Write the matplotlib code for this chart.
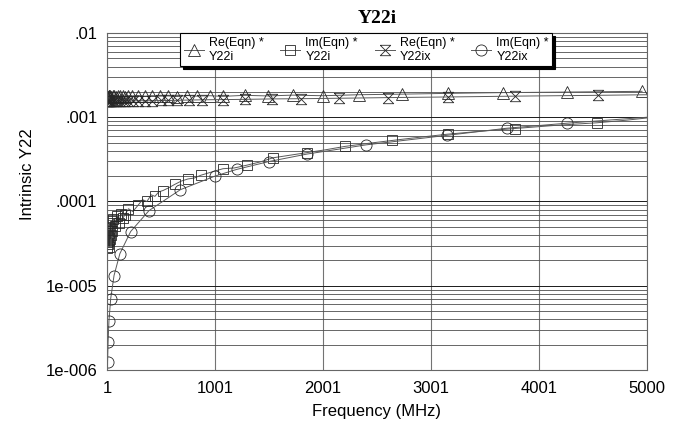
import matplotlib
matplotlib.use("Agg")
import matplotlib.pyplot as plt
from matplotlib.ticker import LogLocator, NullFormatter, FixedLocator

plt.rcParams["font.family"] = ["Liberation Sans", "DejaVu Sans"]

# Re(Eqn) Y22i  (triangles)
f_re_i = [1, 4, 9, 15, 22, 30, 40, 52, 66, 82, 100, 120, 145, 168, 200, 232,
          288, 353, 418, 492, 566, 649, 742, 834, 954, 1075, 1278, 1491, 1723,
          2000, 2330, 2732, 3158, 3667, 4260, 4954]
re_i = [1.76e-3, 1.80e-3, 1.75e-3, 1.79e-3, 1.77e-3, 1.81e-3, 1.76e-3, 1.78e-3,
        1.80e-3, 1.75e-3, 1.79e-3, 1.77e-3, 1.80e-3, 1.76e-3, 1.79e-3, 1.78e-3,
        1.81e-3, 1.77e-3, 1.80e-3, 1.78e-3, 1.79e-3, 1.76e-3, 1.81e-3, 1.78e-3,
        1.80e-3, 1.77e-3, 1.82e-3, 1.79e-3, 1.83e-3, 1.80e-3, 1.85e-3, 1.88e-3,
        1.92e-3, 1.96e-3, 1.99e-3, 2.03e-3]

# Im(Eqn) Y22i  (squares)
f_im_i = [1, 3, 5, 8, 10, 13, 15, 18, 20, 25, 30, 35, 40, 45, 50, 60, 75, 90,
          110, 130, 150, 168, 200, 240, 288, 330, 371, 410, 445, 480, 520, 570,
          630, 690, 750, 810, 870, 950, 1075, 1180, 1297, 1420, 1538, 1700, 1850,
          2020, 2200, 2420, 2640, 2900, 3158, 3450, 3778, 4150, 4540, 4800, 5000]
im_i = [3.3e-5, 4.6e-5, 2.8e-5, 3.9e-5, 3.1e-5, 5.0e-5, 3.5e-5, 4.2e-5, 2.9e-5,
        4.8e-5, 3.6e-5, 5.5e-5, 4.0e-5, 5.9e-5, 4.5e-5, 6.2e-5, 5.1e-5, 6.8e-5,
        5.6e-5, 7.2e-5, 6.4e-5, 7.0e-5, 8.2e-5, 7.6e-5, 9.0e-5, 1.05e-4, 1.0e-4,
        1.2e-4, 1.15e-4, 1.3e-4, 1.35e-4, 1.45e-4, 1.6e-4, 1.75e-4, 1.85e-4,
        1.9e-4, 2.05e-4, 2.2e-4, 2.45e-4, 2.5e-4, 2.7e-4, 2.95e-4, 3.3e-4,
        3.55e-4, 3.8e-4, 4.1e-4, 4.5e-4, 4.9e-4, 5.3e-4, 5.8e-4, 6.3e-4, 6.8e-4,
        7.35e-4, 8.0e-4, 8.6e-4, 9.2e-4, 9.8e-4]
im_i_marks = list(range(22)) + [22, 24, 26, 28, 30, 32, 34, 36, 38, 40, 42,
                                44, 46, 48, 50, 52, 54]

# Re(Eqn) Y22ix  (bowties)
f_re_ix = [1, 4, 9, 15, 22, 30, 40, 52, 66, 82, 100, 120, 145, 170, 200, 240,
           290, 350, 420, 500, 570, 649, 760, 880, 1075, 1278, 1528, 1800, 2150,
           2600, 3158, 3778, 4545, 5000]
re_ix = [1.55e-3, 1.55e-3, 1.55e-3, 1.55e-3, 1.55e-3, 1.55e-3, 1.55e-3, 1.55e-3,
         1.55e-3, 1.55e-3, 1.55e-3, 1.55e-3, 1.56e-3, 1.56e-3, 1.56e-3, 1.56e-3,
         1.57e-3, 1.57e-3, 1.57e-3, 1.58e-3, 1.58e-3, 1.59e-3, 1.60e-3, 1.61e-3,
         1.62e-3, 1.63e-3, 1.65e-3, 1.66e-3, 1.68e-3, 1.71e-3, 1.74e-3, 1.78e-3,
         1.82e-3, 1.85e-3]
re_ix_marks = list(range(33))

# Im(Eqn) Y22ix  (circles)
f_im_ix = [1, 6, 11, 19, 35, 66, 120, 220, 390, 680, 1000, 1200, 1500, 1850,
           2400, 3150, 3700, 4260, 5000]
im_ix = [2.0e-7, 1.25e-6, 2.16e-6, 3.8e-6, 7.0e-6, 1.32e-5, 2.4e-5, 4.4e-5,
         7.8e-5, 1.38e-4, 2.0e-4, 2.4e-4, 2.98e-4, 3.65e-4, 4.7e-4, 6.1e-4,
         7.4e-4, 8.5e-4, 1.0e-3]
im_ix_marks = list(range(1, 18))

x_ticks = [1, 1001, 2001, 3001, 4001, 5000]
y_ticks = [1e-6, 1e-5, 1e-4, 1e-3, 1e-2]
y_labels = ["1e-006", "1e-005", ".0001", ".001", ".01"]
legend_labels = ["Re(Eqn) *\nY22i", "Im(Eqn) *\nY22i",
                 "Re(Eqn) *\nY22ix", "Im(Eqn) *\nY22ix"]

bowtie = [(-1, 1), (1, 1), (-1, -1), (1, -1), (-1, 1)]

fig = plt.figure(figsize=(6.85, 4.24), dpi=100)
ax = fig.add_axes([0.1562, 0.1274, 0.7883, 0.7948])

common = dict(color="0.35", lw=0.7, mfc="none", mec="0.15", mew=0.6)
l1, = ax.plot(f_re_i, re_i, marker="^", ms=8, **common)
l2, = ax.plot(f_im_i, im_i, marker="s", ms=7.5, markevery=im_i_marks, **common)
l3, = ax.plot(f_re_ix, re_ix, marker=bowtie, ms=7.5, markevery=re_ix_marks, **common)
l4, = ax.plot(f_im_ix, im_ix, marker="o", ms=8, markevery=im_ix_marks, **common)

ax.set_yscale("log")
ax.set_ylim(1e-6, 1e-2)
ax.set_xlim(1, 5000)

ax.yaxis.set_major_locator(FixedLocator(y_ticks))
ax.set_yticklabels(y_labels)
ax.yaxis.set_minor_locator(LogLocator(base=10, subs=range(2, 10)))
ax.yaxis.set_minor_formatter(NullFormatter())
ax.set_xticks(x_ticks)
ax.set_xticklabels([str(t) for t in x_ticks])

ax.tick_params(which="both", length=0, labelsize=12)
ax.tick_params(axis="y", pad=7)
ax.tick_params(axis="x", pad=8)

ax.grid(axis="y", which="major", color="0.1", lw=0.7)
ax.grid(axis="y", which="minor", color="0.3", lw=0.6)
ax.grid(axis="x", which="major", color="0.45", lw=0.8)
ax.set_axisbelow(True)
for s in ax.spines.values():
    s.set_color("0.4")
    s.set_linewidth(0.8)

ax.set_title("Y22i", family="Liberation Serif", fontweight="bold", fontsize=14, pad=7)
ax.set_xlabel("Frequency (MHz)", fontsize=12, labelpad=6)
ax.set_ylabel("Intrinsic Y22", fontsize=12)
ax.yaxis.set_label_coords(-0.133, 0.58)

leg = ax.legend([l1, l2, l3, l4], legend_labels, ncol=4, loc="upper left",
                bbox_to_anchor=(0.135, 1.0, 0.69, 0), mode="expand",
                borderaxespad=0, fontsize=9, handlelength=1.6, handletextpad=0.4,
                fancybox=False, framealpha=1, edgecolor="k",
                shadow={"color": "k", "alpha": 1}, borderpad=0.3)
leg.get_frame().set_linewidth(0.8)

fig.savefig("out.png", dpi=100)
